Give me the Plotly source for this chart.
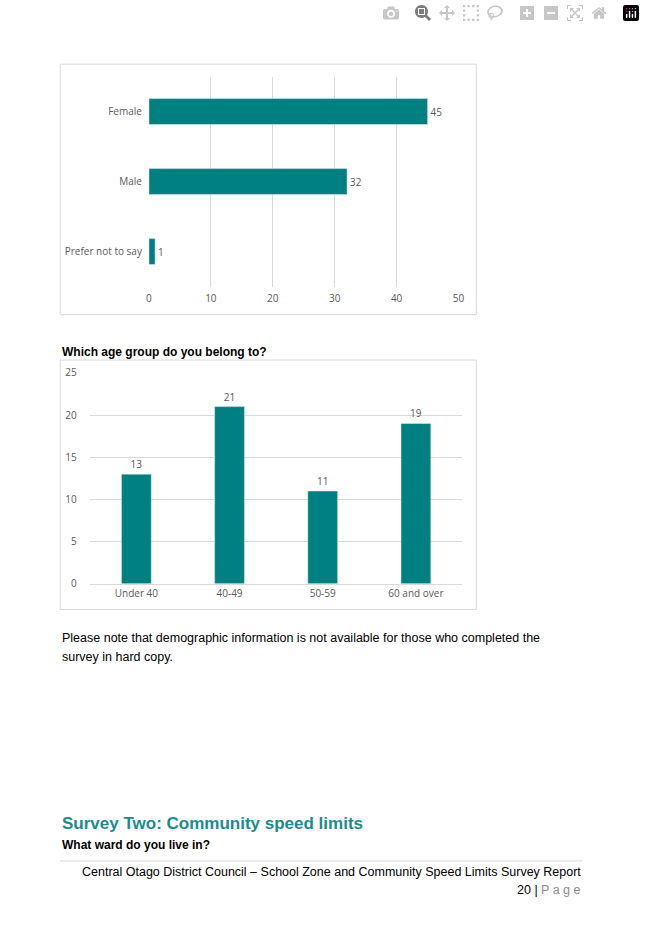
import plotly.graph_objects as go

gender_cats = ["Female", "Male", "Prefer not to say"]
gender_vals = [45, 32, 1]
age_cats = ["Under 40", "40-49", "50-59", "60 and over"]
age_vals = [13, 21, 11, 19]

W, H = 645, 934
teal = "#008080"
tick = dict(family="Open Sans", size=10, color="#595959")

def px(x): return x / W
def py(y): return 1 - y / H

fig = go.Figure()
fig.add_trace(go.Bar(y=gender_cats, x=gender_vals, orientation="h", marker_color=teal,
                     width=0.37, text=gender_vals, textposition="outside",
                     textfont=tick, cliponaxis=False, xaxis="x", yaxis="y"))
fig.add_trace(go.Bar(x=age_cats, y=age_vals, marker_color=teal, width=0.32,
                     text=age_vals, textposition="outside", textfont=tick,
                     cliponaxis=False, xaxis="x2", yaxis="y2"))

fig.update_layout(
    width=W, height=H, margin=dict(l=0, r=0, t=0, b=0),
    paper_bgcolor="white", plot_bgcolor="white", showlegend=False,
    xaxis=dict(domain=[px(148), px(462)], range=[0, 50], dtick=10, showgrid=True,
               gridcolor="#d9d9d9", zeroline=False, tickfont=tick, anchor="y", ticks="",
               ticklabelstandoff=4),
    yaxis=dict(domain=[py(283.5), py(70.5)], autorange="reversed", tickfont=tick,
               anchor="x", ticks="", ticklabelstandoff=6),
    xaxis2=dict(domain=[px(88), px(466)], tickfont=tick, anchor="y2", showline=True,
                linecolor="#d9d9d9", ticks=""),
    yaxis2=dict(domain=[py(585), py(371)], range=[0, 25], dtick=5, showgrid=True,
                gridcolor="#d9d9d9", zeroline=False, tickfont=tick, anchor="x2",
                ticklabelstandoff=12),
    shapes=[
        dict(type="rect", xref="paper", yref="paper", x0=px(58), x1=px(480), y0=py(312), y1=py(58),
             line=dict(color="#d9d9d9", width=1)),
        dict(type="rect", xref="paper", yref="paper", x0=px(58), x1=px(480), y0=py(611), y1=py(358),
             line=dict(color="#d9d9d9", width=1)),
        dict(type="line", xref="paper", yref="paper", x0=px(58), x1=px(588), y0=py(866), y1=py(866),
             line=dict(color="#d9d9d9", width=1)),
    ],
)

def ann(x, y, text, size=11, color="black", xanchor="left", family="Liberation Sans"):
    fig.add_annotation(x=px(x), y=py(y), xref="paper", yref="paper", text=text, showarrow=False,
                       xanchor=xanchor, yanchor="middle",
                       font=dict(family=family, size=size, color=color), align="left")

ann(58, 350, "<b>Which age group do you belong to?</b>", 12)
ann(58, 640, "Please note that demographic information is not available for those who completed the", 12.5)
ann(58, 659, "survey in hard copy.", 12.5)
ann(58, 828, "<b>Survey Two: Community speed limits</b>", 17, "#1a8c8c")
ann(58, 850, "<b>What ward do you live in?</b>", 12)
ann(588, 877, "Central Otago District Council – School Zone and Community Speed Limits Survey Report", 12.5, xanchor="right")
ann(588, 895, "20 | <span style='color:#8c8c8c'>P a g e</span>", 12.5, xanchor="right")

fig.write_html("out.html", post_script="document.body.style.margin='0';document.body.style.overflow='hidden';")
